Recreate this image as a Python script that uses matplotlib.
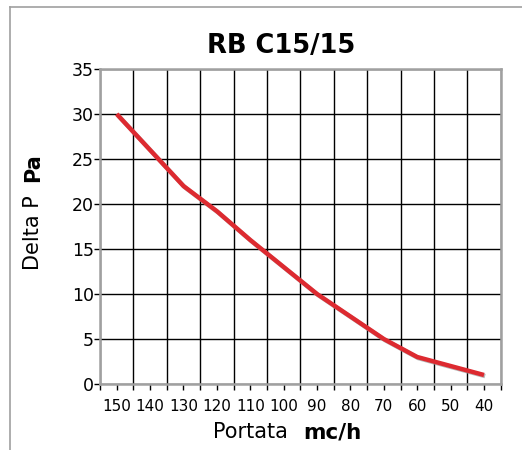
import numpy as np
import matplotlib
matplotlib.use("Agg")
import matplotlib.pyplot as plt
import matplotlib.patheffects as pe
from matplotlib.lines import Line2D

# data
flow = [150, 140, 130, 120, 110, 100, 90, 80, 70, 60, 50, 40]   # mc/h
delta_p = [30, 26, 22, 19.2, 16, 13, 10, 7.5, 5, 3, 2, 1]       # Pa
y_ticks = [0, 5, 10, 15, 20, 25, 30, 35]

plt.rcParams['font.family'] = ['DejaVu Sans']

W, H = 522, 450
fig = plt.figure(figsize=(W / 100, H / 100), dpi=100)
ax = fig.add_axes([100 / W, 1 - 384 / H, 400.7 / W, 315 / H])

x = np.arange(len(flow))
ax.plot(x, delta_p, color='#dd2a30', lw=3.2, solid_capstyle='butt', zorder=5,
        path_effects=[pe.SimpleLineShadow(offset=(0.8, -0.8), shadow_color='#9a9a9a', alpha=0.7),
                      pe.Normal()])

ax.set_xlim(-0.5, len(flow) - 0.5)
ax.set_ylim(0, 35)

# bin boundaries = major ticks + grid, bin centres = labelled minor ticks
ax.set_xticks(np.arange(-0.5, len(flow), 1.0))
ax.set_xticklabels([])
ax.set_xticks(x, minor=True)
ax.set_xticklabels([str(f) for f in flow], minor=True)
ax.set_yticks(y_ticks)

ax.tick_params(axis='x', which='both', length=4, width=1, color='black',
               direction='out', pad=6.5, labelsize=11)
ax.tick_params(axis='y', length=4, width=1, color='black', pad=0.5, labelsize=12.5)

ax.grid(True, which='major', color='black', lw=1.0)
ax.set_axisbelow(True)
for s in ax.spines.values():
    s.set_color('#a0a0a0')
    s.set_linewidth(1.8)
    s.set_zorder(6)

# title and axis labels
fig.text(281 / W, 1 - 53 / H, 'RB C15/15', ha='center', va='baseline',
         fontsize=18.5, fontweight='bold')
fig.text(250 / W, 1 - 438 / H, 'Portata', ha='center', va='baseline', fontsize=15)
fig.text(332 / W, 1 - 438 / H, 'mc/h', ha='center', va='baseline', fontsize=15.5,
         fontweight='bold')
fig.text(33 / W, 1 - 233 / H, 'Delta P', ha='center', va='center', rotation=90,
         fontsize=15)
fig.text(33 / W, 1 - 168 / H, 'Pa', ha='center', va='center', rotation=90,
         fontsize=15, fontweight='bold')

# outer frame (top and left only)
fig.add_artist(Line2D([10 / W, 1.0], [1 - 7 / H, 1 - 7 / H], color='#a0a0a0', lw=1.2))
fig.add_artist(Line2D([10 / W, 10 / W], [0.0, 1 - 7 / H], color='#a0a0a0', lw=1.2))

fig.savefig('out.png', dpi=100)
